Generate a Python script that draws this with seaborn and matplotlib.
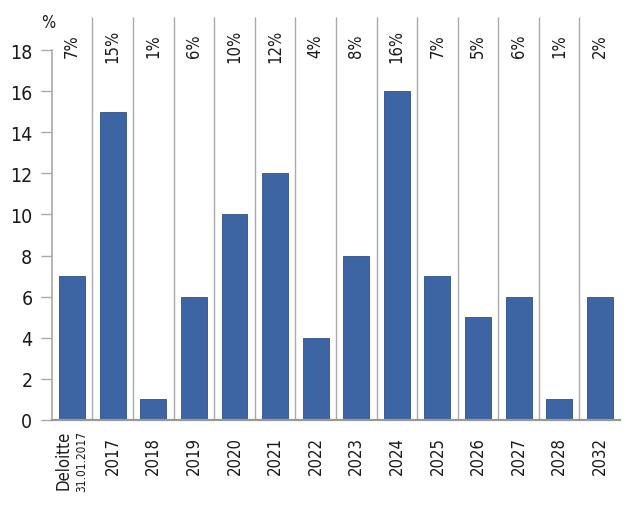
import matplotlib
matplotlib.use("Agg")
from matplotlib import pyplot as plt
import matplotlib.transforms as mtransforms
import seaborn as sns
import numpy as np

categories = ["Deloitte", "2017", "2018", "2019", "2020", "2021", "2022",
              "2023", "2024", "2025", "2026", "2027", "2028", "2032"]
values = [7, 15, 1, 6, 10, 12, 4, 8, 16, 7, 5, 6, 1, 6]
pct_labels = ["7%", "15%", "1%", "6%", "10%", "12%", "4%", "8%", "16%",
              "7%", "5%", "6%", "1%", "2%"]
y_ticks = [0, 2, 4, 6, 8, 10, 12, 14, 16, 18]

sns.set_style("white")
plt.rcParams["font.family"] = ["DejaVu Sans"]
plt.rcParams["font.stretch"] = "condensed"

bar_color = "#3d65a3"
grid_color = "#aaaaaa"
text_color = "#1a1a1a"

fig, ax = plt.subplots(figsize=(6.25, 5.06), dpi=100)
fig.subplots_adjust(left=0.083, right=0.992, bottom=0.168, top=0.964)

sns.barplot(x=categories, y=values, color=bar_color, width=0.64,
            saturation=1, edgecolor="#2f5088", linewidth=0.6, ax=ax)

n = len(categories)
ax.set_xlim(-0.5, n - 0.5)
ax.set_ylim(0, 19.6)

# separators between categories
ax.vlines(np.arange(n - 1) + 0.5, 0, 19.6, color=grid_color, lw=1.0, zorder=0)

# percent labels at the top
for i, lab in enumerate(pct_labels):
    ax.text(i, 18.25, lab, rotation=90, ha="center", va="center",
            fontsize=12, color=text_color)

ax.set_yticks(y_ticks)
ax.set_yticklabels([str(t) for t in y_ticks], fontsize=14, color=text_color)
ax.tick_params(axis="y", left=True, length=8, width=1, color=grid_color, pad=6)
ax.tick_params(axis="x", bottom=False, pad=8)

ax.set_xticks(range(n))
xt = [""] + categories[1:]
ax.set_xticklabels(xt, rotation=90, fontsize=12, color=text_color, va="top")

# two-line first label
trans = mtransforms.blended_transform_factory(ax.transData, ax.transAxes)
ax.text(-0.22, -0.025, "Deloitte", rotation=90, ha="center", va="top",
        fontsize=12, color=text_color, transform=trans)
ax.text(0.24, -0.025, "31.01.2017", rotation=90, ha="center", va="top",
        fontsize=8.5, color=text_color, transform=trans)

ax.text(-0.006, 1.01, "%", transform=ax.transAxes, ha="center", va="top",
        fontsize=12, color=text_color)

for s in ["top", "right"]:
    ax.spines[s].set_visible(False)
ax.spines["left"].set_bounds(0, 18)
ax.spines["left"].set_color(grid_color)
ax.spines["left"].set_linewidth(1.2)
ax.spines["bottom"].set_color("#999999")
ax.spines["bottom"].set_linewidth(1.6)

ax.set_xlabel("")
ax.set_ylabel("")

fig.savefig("out.png", dpi=100)
